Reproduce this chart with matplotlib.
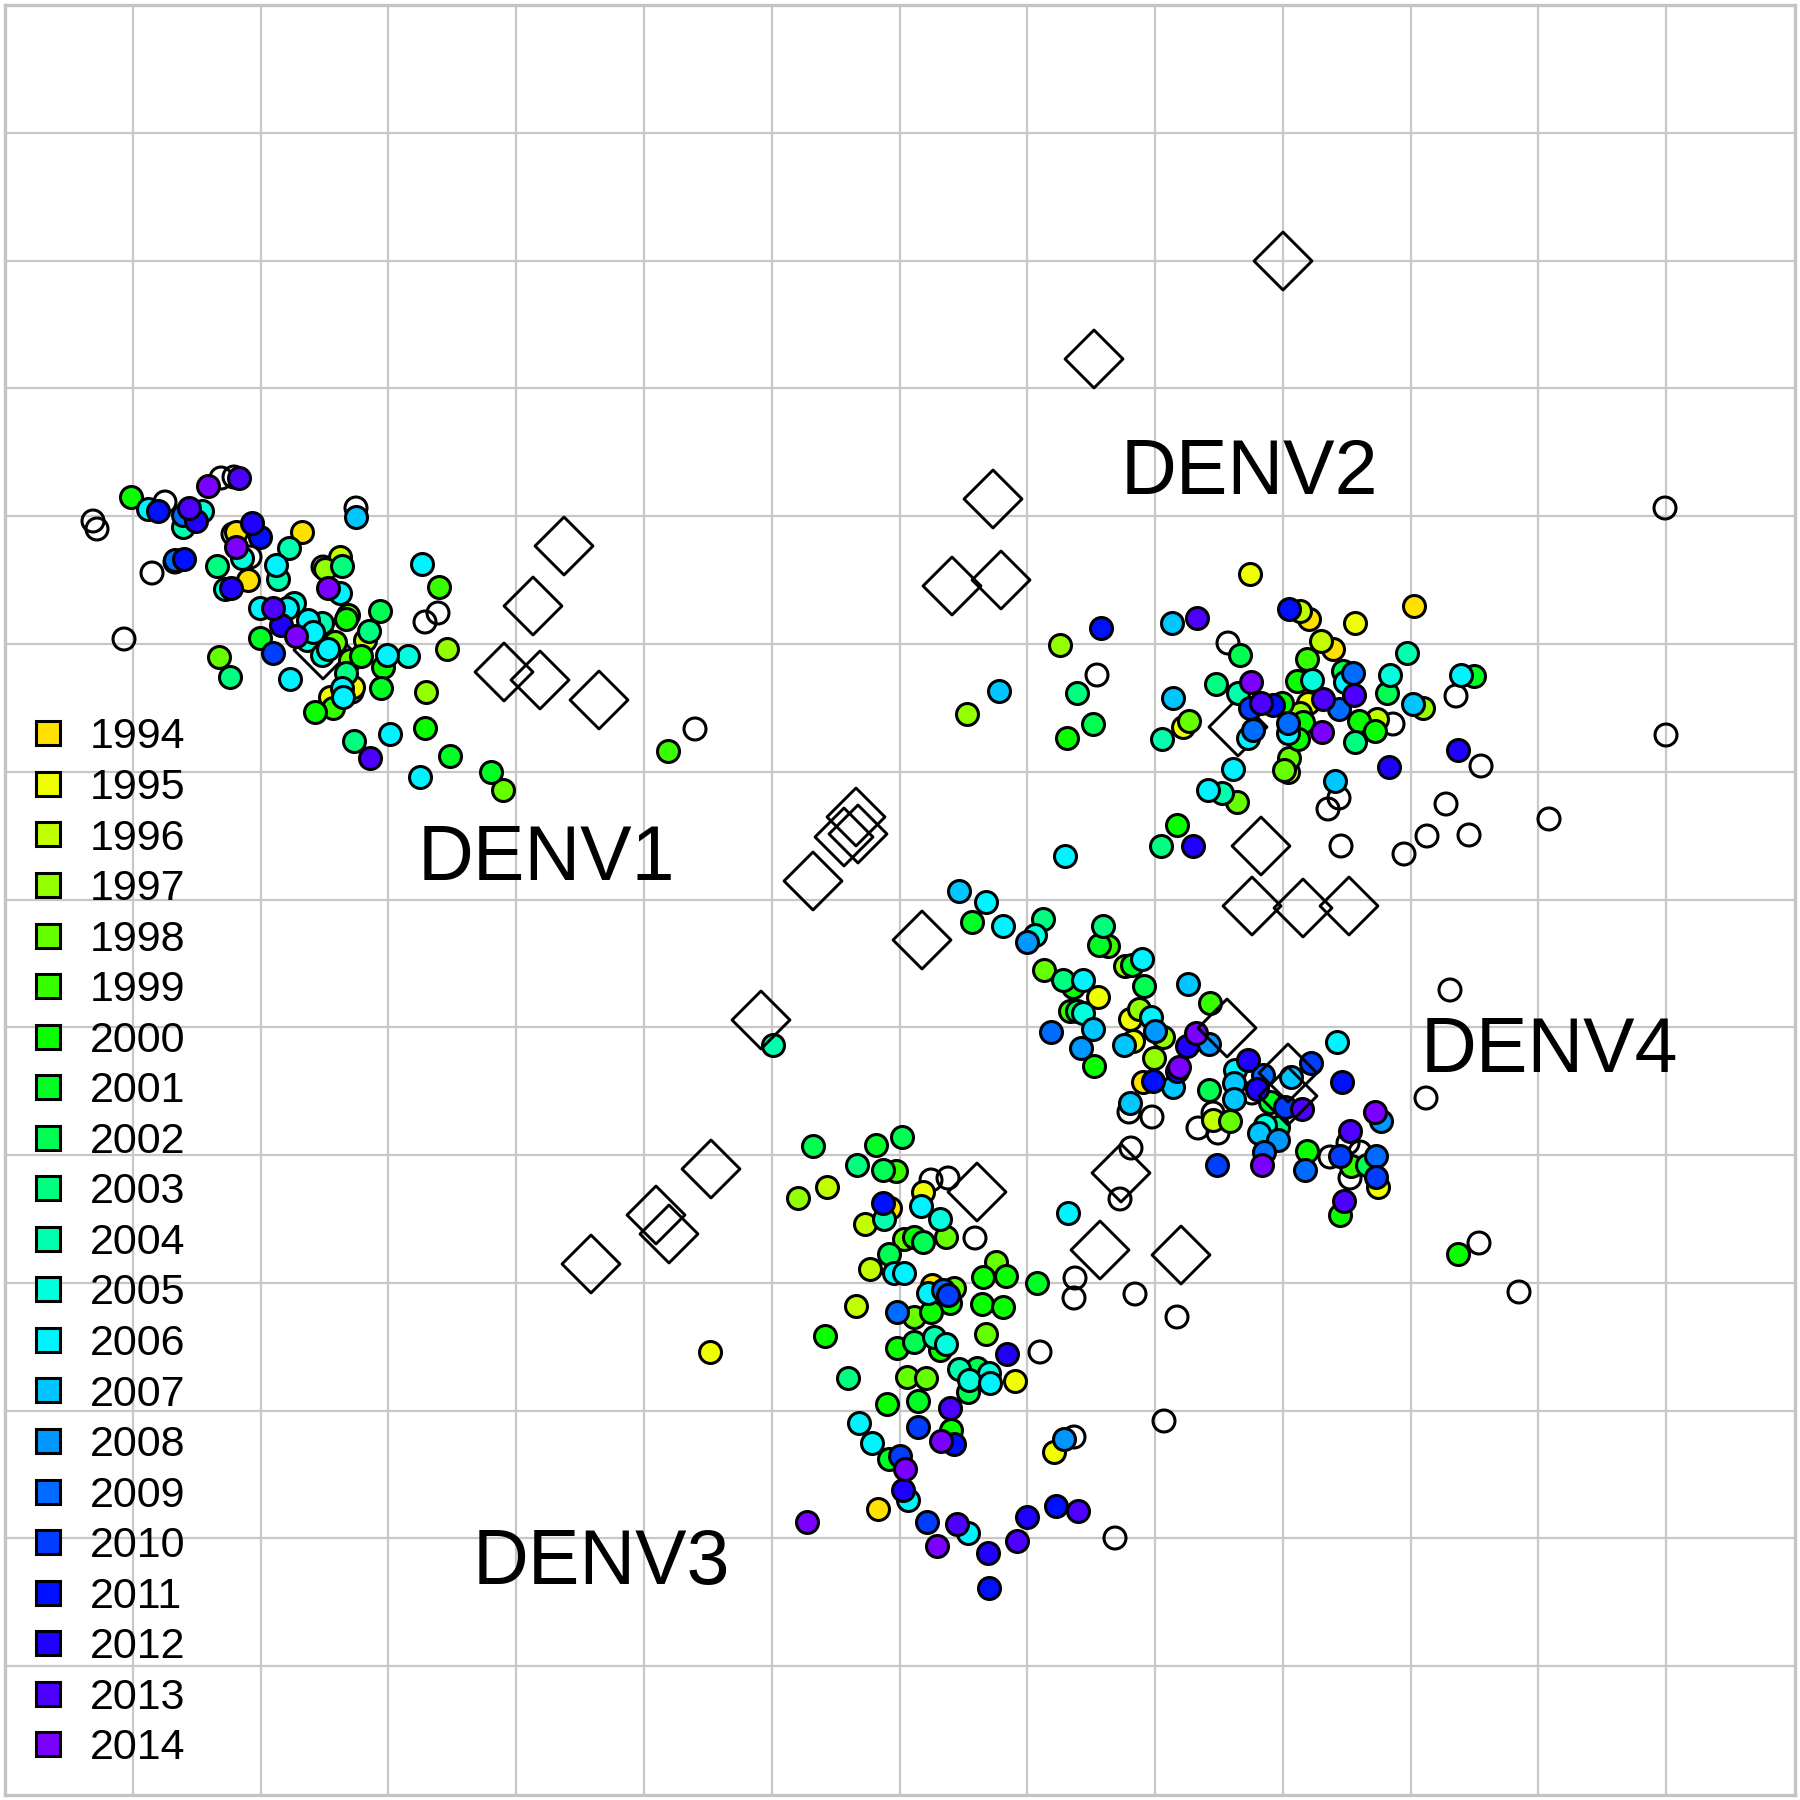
import colorsys
import numpy as np
import matplotlib
matplotlib.use("Agg")
import matplotlib.pyplot as plt
from matplotlib.lines import Line2D

plt.rcParams["font.family"] = ["Liberation Sans", "DejaVu Sans"]

# map coordinates, one grid square is 127.75 units
years = list(range(1994, 2015))
grid_lines = [133, 261, 388, 516, 644, 772, 900, 1027, 1155, 1283, 1411, 1538, 1666]

denv1_x = [131, 148, 158, 202, 183, 183, 196, 189, 208, 239, 236, 252, 260, 236, 242, 302, 289, 276, 278, 217,
           248, 225, 231, 175, 184, 340, 325, 342, 328, 340, 356, 422, 439, 447, 260, 287, 294, 273, 281, 260,
           273, 296, 308, 322, 313, 307, 219, 230, 290, 335, 322, 328, 348, 346, 380, 369, 365, 361, 350, 383,
           387, 408, 346, 381, 342, 353, 330, 343, 333, 315, 426, 425, 390, 354, 370, 450, 420, 491, 503, 668]
denv1_y = [497, 509, 511, 511, 527, 515, 521, 508, 486, 478, 532, 523, 537, 547, 558, 532, 548, 565, 579, 566,
           580, 589, 588, 560, 559, 557, 569, 566, 588, 593, 517, 564, 587, 649, 608, 608, 603, 608, 625, 638,
           653, 636, 620, 623, 632, 640, 657, 677, 679, 642, 655, 649, 615, 619, 611, 631, 640, 656, 660, 667,
           655, 656, 673, 688, 688, 687, 697, 697, 708, 712, 692, 728, 734, 741, 758, 756, 777, 772, 790, 751]
denv1_year = [2000, 2006, 2011, 2005, 2004, 2009, 2012, 2013, 2014, 2013, 1994, 2012, 2011, 2014, 2005, 1994, 2004, 2006, 2004, 2003,
              1994, 2005, 2012, 2009, 2011, 1996, 1997, 2003, 2014, 2006, 2007, 2006, 1999, 1997, 2006, 2006, 2005, 2013, 2012, 2001,
              2010, 2014, 2006, 2004, 2006, 2005, 1998, 2003, 2006, 1998, 2005, 2006, 1998, 2000, 2002, 2003, 1996, 2000, 1998, 2000,
              2006, 2005, 2003, 2001, 2006, 1995, 1995, 2006, 1999, 2000, 1997, 2000, 2006, 2003, 2013, 2001, 2006, 2001, 1998, 1999]

denv2_x = [1250, 1289, 1300, 1309, 1355, 1414, 1321, 1333, 1407, 1307, 1240, 1101, 1060, 1172, 1197, 1077, 1216, 1173, 1067, 1093,
           1162, 1183, 1189, 1238, 1251, 1248, 1253, 1250, 1261, 1273, 1282, 1297, 1312, 1343, 1345, 1353, 1354, 1323, 1308, 1339,
           1300, 1303, 1288, 1288, 1298, 1322, 1359, 1377, 1375, 1355, 1390, 1387, 1413, 1423, 1461, 1474, 1458, 1389, 1335, 1289,
           1284, 1288, 1233, 1208, 1222, 1237, 1177, 1161, 1193, 1065, 967, 999]
denv2_y = [574, 609, 611, 619, 623, 606, 641, 649, 653, 659, 655, 628, 645, 623, 618, 693, 684, 698, 738, 724,
           739, 727, 721, 693, 682, 738, 730, 708, 703, 705, 703, 681, 680, 671, 682, 673, 695, 699, 703, 709,
           713, 722, 723, 733, 739, 732, 721, 719, 731, 742, 675, 693, 704, 708, 675, 676, 750, 767, 781, 758,
           770, 772, 769, 790, 793, 802, 825, 846, 846, 856, 714, 691]
denv2_year = [1995, 2011, 1996, 1994, 1995, 1994, 1996, 1994, 2004, 1999, 2002, 2011, 1997, 2007, 2013, 2003, 2003, 2007, 2000, 2002,
              2004, 1995, 1998, 2004, 2014, 2006, 2009, 2010, 2013, 2011, 2000, 2000, 2005, 2002, 2006, 2009, 2013, 2013, 1995, 2009,
              1997, 2000, 2009, 2006, 2000, 2014, 2000, 1996, 2000, 2003, 2005, 2002, 2007, 1997, 2006, 2001, 2012, 2012, 2007, 1998,
              1998, 1995, 2006, 2006, 2004, 1998, 2000, 2003, 2012, 2006, 1997, 2007]

denv4_x = [959, 986, 972, 1003, 1027, 1035, 1043, 1103, 1108, 1099, 1044, 1063, 1073, 1083, 1098, 1142, 1132, 1125, 1144, 1070,
           1077, 1083, 1051, 1093, 1081, 1094, 1188, 1210, 1139, 1130, 1151, 1155, 1163, 1133, 1124, 1154, 1196, 1187, 1209, 1179,
           1177, 1173, 1143, 1153, 1130, 1209, 1235, 1248, 1263, 1234, 1257, 1234, 1270, 1285, 1302, 1291, 1311, 1337, 1342, 1213,
           1230, 1265, 1278, 1259, 1278, 1264, 1262, 1217, 1307, 1305, 1375, 1381, 1350, 1340, 1351, 1367, 1376, 1376, 1378, 1344,
           1340, 1068, 773, 1458]
denv4_y = [891, 902, 922, 926, 942, 935, 919, 926, 946, 945, 970, 980, 987, 980, 997, 959, 965, 966, 986, 1011,
           1011, 1013, 1032, 1029, 1048, 1066, 984, 1003, 1009, 1019, 1017, 1031, 1037, 1041, 1045, 1058, 1033, 1046, 1044, 1067,
           1071, 1087, 1082, 1081, 1103, 1090, 1070, 1060, 1075, 1083, 1089, 1099, 1102, 1107, 1109, 1077, 1063, 1042, 1082, 1120,
           1121, 1125, 1127, 1133, 1140, 1152, 1165, 1165, 1151, 1170, 1112, 1121, 1131, 1156, 1166, 1165, 1156, 1177, 1187, 1201,
           1215, 1213, 1045, 1254]
denv4_year = [2007, 2006, 2001, 2006, 2008, 2005, 2003, 2003, 1999, 2001, 1998, 2003, 2000, 2006, 1995, 2006, 2001, 1997, 2002, 1999,
              2002, 2005, 2009, 2007, 2008, 2000, 2007, 1999, 1997, 1995, 2006, 2008, 1997, 1995, 2007, 1997, 2014, 2012, 2008, 2014,
              2012, 2007, 1994, 2011, 2007, 2002, 2006, 2012, 2009, 2007, 2012, 2007, 2001, 2010, 2013, 2007, 2010, 2006, 2011, 1996,
              1998, 2005, 2003, 2007, 2008, 2009, 2014, 2010, 2000, 2009, 2014, 2008, 2013, 2010, 1999, 2002, 2009, 2010, 1995, 2013,
              2000, 2006, 2004, 2000]

denv3_x = [813, 876, 902, 857, 896, 883, 798, 827, 923, 921, 940, 890, 883, 884, 865, 946, 904, 914, 923, 889,
           870, 894, 904, 996, 983, 1006, 1037, 932, 954, 928, 950, 948, 943, 931, 914, 897, 856, 982, 1003, 825,
           986, 914, 897, 934, 940, 946, 1007, 848, 907, 926, 959, 977, 990, 989, 969, 968, 1015, 887, 918, 950,
           859, 918, 951, 872, 954, 941, 889, 900, 905, 903, 908, 878, 807, 927, 957, 968, 937, 988, 1017, 1027,
           1056, 1078, 989, 1054, 1064, 710]
denv3_y = [1146, 1145, 1137, 1165, 1171, 1170, 1198, 1187, 1192, 1206, 1219, 1208, 1203, 1219, 1224, 1237, 1239, 1237, 1242, 1254,
           1269, 1273, 1273, 1262, 1277, 1276, 1283, 1285, 1288, 1293, 1303, 1295, 1290, 1312, 1317, 1312, 1306, 1304, 1307, 1336,
           1334, 1342, 1348, 1337, 1350, 1344, 1354, 1378, 1377, 1378, 1369, 1368, 1383, 1373, 1380, 1392, 1381, 1404, 1401, 1408,
           1423, 1427, 1430, 1443, 1444, 1441, 1459, 1456, 1469, 1490, 1500, 1509, 1522, 1522, 1524, 1533, 1546, 1553, 1541, 1517,
           1506, 1511, 1588, 1452, 1439, 1352]
denv3_year = [2002, 2001, 2002, 2003, 1999, 2002, 1997, 1996, 1995, 2006, 2005, 1994, 2011, 2004, 1996, 1998, 1998, 2000, 2002, 2002,
              1996, 2006, 2006, 1998, 2000, 2000, 2001, 1994, 1998, 2006, 2000, 2010, 2009, 2000, 1998, 2009, 1996, 2000, 2000, 2000,
              1998, 2002, 2000, 2004, 2000, 2005, 2012, 2003, 1998, 1998, 2004, 2002, 2006, 2005, 2005, 2002, 1995, 2000, 2001, 2013,
              2006, 2010, 2000, 2006, 2011, 2014, 2001, 2010, 2014, 2012, 2006, 1994, 2014, 2010, 2013, 2006, 2014, 2012, 2013, 2012,
              2011, 2013, 2011, 1995, 2008, 1995]

# open circles (sera)
sera_x = [93, 97, 165, 221, 234, 152, 175, 124, 356, 425, 438, 233, 250, 323, 352, 695,
          1097, 1228, 1393, 1456, 1481, 1339, 1328, 1446, 1427, 1469, 1404, 1341, 1665, 1666, 1549, 1450, 1426,
          1213, 1198, 1218, 1129, 1152, 1131, 1120, 1330, 1350, 1348, 1360, 1252,
          931, 948, 975, 1075, 1074, 1135, 1040, 1074, 1115, 1164, 1177, 1479, 1519]
sera_y = [521, 529, 502, 478, 477, 573, 562, 639, 508, 622, 613, 534, 557, 567, 692, 729,
          675, 643, 724, 696, 766, 798, 809, 804, 836, 835, 854, 846, 508, 735, 819, 990, 1098,
          1113, 1128, 1133, 1112, 1117, 1148, 1199, 1157, 1178, 1143, 1152, 1093,
          1180, 1178, 1238, 1278, 1298, 1294, 1352, 1437, 1538, 1421, 1317, 1243, 1292]

# diamonds (antigens), most sit under the circles
strain_x = [323, 564, 533, 504, 540, 599, 1283, 1094, 993, 952, 1001, 1238, 1261, 1252, 1303, 1349,
            856, 858, 844, 813, 922, 711, 656, 669, 591, 977, 1100, 1181, 1121]
strain_y = [650, 546, 606, 672, 680, 700, 261, 359, 499, 586, 580, 727, 846, 906, 908, 906,
            817, 834, 837, 881, 940, 1169, 1215, 1234, 1264, 1192, 1250, 1255, 1173]
top_strain_x = [1227, 1288, 1288, 761]
top_strain_y = [1028, 1073, 1096, 1020]

labels = ["DENV1", "DENV2", "DENV3", "DENV4"]
label_x = [546, 1249, 601, 1549]
label_y = [860, 474, 1564, 1052]


def year_colour(year):
    return colorsys.hsv_to_rgb(0.147 + (year - 1994) * 0.03, 1, 1)


fig = plt.figure(figsize=(18, 18), dpi=100)
ax = fig.add_axes([5 / 1800, 5 / 1800, 1790 / 1800, 1790 / 1800])
ax.set_xlim(5, 1795)
ax.set_ylim(1795, 5)
ax.set_xticks(grid_lines)
ax.set_yticks(grid_lines)
ax.tick_params(length=0, labelbottom=False, labelleft=False)
ax.grid(color="#c8c8c8", linewidth=1.6)
ax.set_axisbelow(True)
for s in ax.spines.values():
    s.set_color("#c4c4c4")
    s.set_linewidth(2.4)

lw = 2.2
ax.scatter(strain_x, strain_y, s=870, marker="D", facecolors="none", edgecolors="black", linewidths=2.1, zorder=2)
ax.scatter(sera_x, sera_y, s=250, facecolors="none", edgecolors="black", linewidths=lw, zorder=2)

all_x = np.array(denv1_x + denv2_x + denv3_x + denv4_x)
all_y = np.array(denv1_y + denv2_y + denv3_y + denv4_y)
all_year = np.array(denv1_year + denv2_year + denv3_year + denv4_year)
for yr in years:
    m = all_year == yr
    ax.scatter(all_x[m], all_y[m], s=250, color=year_colour(yr), edgecolors="black", linewidths=lw, zorder=3)

ax.scatter(top_strain_x, top_strain_y, s=870, marker="D", facecolors="none", edgecolors="black", linewidths=2.1, zorder=4)

for name, x, y in zip(labels, label_x, label_y):
    ax.text(x, y, name, fontsize=55.5, ha="center", va="center", color="black", zorder=5)

handles = [Line2D([], [], linestyle="none", marker="s", markersize=16.8, markerfacecolor=year_colour(yr),
                  markeredgecolor="black", markeredgewidth=2.2) for yr in years]
ax.legend(handles, [str(yr) for yr in years], loc="lower left", bbox_to_anchor=(10 / 1790, 15 / 1790),
          frameon=False, fontsize=31, labelspacing=0.245, handlelength=1.0, handletextpad=0.47,
          borderpad=0.27, borderaxespad=0)

fig.savefig("out.png", dpi=100)
